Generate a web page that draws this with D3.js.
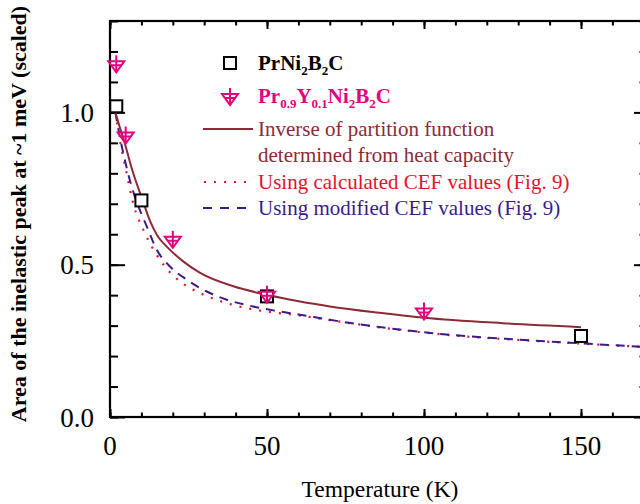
<!DOCTYPE html>
<html><head><meta charset="utf-8">
<script src="https://cdn.jsdelivr.net/npm/d3@7"></script>
<style>body{margin:0;background:#fff}svg{display:block}text{font-family:"Liberation Serif","Times New Roman",serif}</style>
</head><body><svg id="c" width="640" height="504"></svg>
<script>
// Data
const prT = [2, 10, 50, 150];
const prV = [1.02, 0.711, 0.396, 0.266];
const pyT = [2, 5, 20, 50, 100];
const pyV = [1.158, 0.924, 0.582, 0.401, 0.346];
const solidT = [1.7, 3, 4.5, 7.1, 10.1, 12.7, 15, 18, 23.3, 28.7, 39.3, 49.9, 60.5, 70, 85, 100, 125, 150];
const solidV = [1.0, 0.955, 0.906, 0.81, 0.72, 0.645, 0.597, 0.56, 0.511, 0.473, 0.429, 0.401, 0.379, 0.363, 0.343, 0.326, 0.308, 0.295];
const dashT = [1.7, 3.4, 5.5, 7.7, 9.3, 11.7, 14.9, 19.1, 24.4, 30.8, 37.2, 44.6, 52, 60.5, 70, 90, 108, 130, 146.5, 172];
const dashV = [1.0, 0.906, 0.81, 0.73, 0.685, 0.626, 0.549, 0.494, 0.451, 0.412, 0.385, 0.365, 0.35, 0.336, 0.319, 0.29, 0.27, 0.254, 0.244, 0.229];
const dotT = [1.7, 3.3, 5.3, 7.4, 10.6, 15.9, 22.3, 28.7, 39.2, 49.9, 58.3, 70, 90, 108, 130, 146.5, 172];
const dotV = [1.0, 0.9, 0.8, 0.70, 0.615, 0.516, 0.445, 0.407, 0.368, 0.346, 0.336, 0.318, 0.289, 0.269, 0.253, 0.243, 0.229];
const xMajor = [0, 50, 100, 150];
const yMajor = [0.0, 0.5, 1.0];
const legendLabels = ["Inverse of partition function", "determined from heat capacity", "Using calculated CEF values (Fig. 9)", "Using modified CEF values (Fig. 9)"];

const svg = d3.select("#c");
const L = 110, R = 648, T = 21, B = 417;
const x = d3.scaleLinear().domain([0, (R - L) / 3.14]).range([L, R]);
const y = d3.scaleLinear().domain([0, 1.3]).range([B, T]);

const cSolid = "#8e2a36", cDot = "#e8112d", cDash = "#3c1a8c", cPink = "#e5007e";

const xMinor = d3.range(0, 171, 10);
const yMinor = d3.range(0, 1.31, 0.1);

function tickAxis(axis, scale, vals, len) {
  return axis(scale).tickValues(vals).tickSize(len).tickFormat("");
}
const g = svg.append("g");
g.append("g").attr("transform", `translate(0,${B})`).call(tickAxis(d3.axisTop, x, xMinor, 4.5));
g.append("g").attr("transform", `translate(0,${B})`).call(tickAxis(d3.axisTop, x, xMajor, 8));
g.append("g").attr("transform", `translate(0,${T})`).call(tickAxis(d3.axisBottom, x, xMinor, 4.5));
g.append("g").attr("transform", `translate(0,${T})`).call(tickAxis(d3.axisBottom, x, xMajor, 8));
g.append("g").attr("transform", `translate(${L},0)`).call(tickAxis(d3.axisRight, y, yMinor, 8));
g.append("g").attr("transform", `translate(${L},0)`).call(tickAxis(d3.axisRight, y, yMajor, 15));
g.append("g").attr("transform", `translate(${R},0)`).call(tickAxis(d3.axisLeft, y, yMinor, 8.5));
g.append("g").attr("transform", `translate(${R},0)`).call(tickAxis(d3.axisLeft, y, yMajor, 14));
g.selectAll(".domain").remove();
g.selectAll(".tick line").attr("stroke", "#000").attr("stroke-width", 2);
g.append("rect").attr("x", L).attr("y", T).attr("width", R - L).attr("height", B - T)
  .attr("fill", "none").attr("stroke", "#000").attr("stroke-width", 2.2);

// tick labels
svg.append("g").selectAll("text").data(xMajor).join("text")
  .attr("x", d => x(d)).attr("y", 455).attr("text-anchor", "middle")
  .attr("font-size", 27).text(d => d);
svg.append("g").selectAll("text").data(yMajor).join("text")
  .attr("x", 94).attr("y", d => y(d) + 9.5).attr("text-anchor", "end")
  .attr("font-size", 27).text(d => d.toFixed(1));

// axis titles
svg.append("text").attr("x", 380).attr("y", 497).attr("text-anchor", "middle")
  .attr("font-size", 23.5).text("Temperature (K)");
svg.append("text").attr("transform", "translate(26,214) rotate(-90)").attr("text-anchor", "middle")
  .attr("font-size", 22).attr("font-weight", "bold").text("Area of the inelastic peak at ~1 meV (scaled)");

// curves
const line = d3.line().curve(d3.curveMonotoneX).x(d => x(d[0])).y(d => y(d[1]));
svg.append("clipPath").attr("id", "clp").append("rect")
  .attr("x", L).attr("y", T).attr("width", R - L).attr("height", B - T);
const curves = svg.append("g").attr("clip-path", "url(#clp)");
curves.append("path").attr("d", line(dotT.map((t, i) => [t, dotV[i]])))
  .attr("fill", "none").attr("stroke", cDot).attr("stroke-width", 2.2).attr("stroke-dasharray", "2,8");
curves.append("path").attr("d", line(dashT.map((t, i) => [t, dashV[i]])))
  .attr("fill", "none").attr("stroke", cDash).attr("stroke-width", 2).attr("stroke-dasharray", "9,7");
curves.append("path").attr("d", line(solidT.map((t, i) => [t, solidV[i]])))
  .attr("fill", "none").attr("stroke", cSolid).attr("stroke-width", 2);

// markers
function square(sel) {
  sel.append("rect").attr("x", -6).attr("y", -6).attr("width", 12).attr("height", 12)
    .attr("fill", "#fff").attr("stroke", "#000").attr("stroke-width", 2);
}
function tri(sel) {
  sel.append("path").attr("d", "M-8,-3L8,-3L0,8Z").attr("fill", "none")
    .attr("stroke", cPink).attr("stroke-width", 2).attr("stroke-linejoin", "miter");
  sel.append("path").attr("d", "M0,-9L0,8M-5.5,1L5.5,1").attr("fill", "none")
    .attr("stroke", cPink).attr("stroke-width", 2);
}
svg.append("g").selectAll("g").data(prT.map((t, i) => [t, prV[i]])).join("g")
  .attr("transform", d => `translate(${x(d[0])},${y(d[1])})`).each(function () { square(d3.select(this)); });
svg.append("g").selectAll("g").data(pyT.map((t, i) => [t, pyV[i]])).join("g")
  .attr("transform", d => `translate(${x(d[0])},${y(d[1])})`).each(function () { tri(d3.select(this)); });

// legend
const lg = svg.append("g");
square(lg.append("g").attr("transform", "translate(230,63)"));
tri(lg.append("g").attr("transform", "translate(230,97)"));
const t1 = lg.append("text").attr("x", 258).attr("y", 70).attr("font-size", 21).attr("font-weight", "bold").attr("fill", "#000");
t1.append("tspan").text("PrNi");
t1.append("tspan").attr("font-size", 13).attr("dy", 5).text("2");
t1.append("tspan").attr("dy", -5).text("B");
t1.append("tspan").attr("font-size", 13).attr("dy", 5).text("2");
t1.append("tspan").attr("dy", -5).text("C");
const t2 = lg.append("text").attr("x", 258).attr("y", 103).attr("font-size", 21).attr("font-weight", "bold").attr("fill", cPink);
t2.append("tspan").text("Pr");
t2.append("tspan").attr("font-size", 13).attr("dy", 5).text("0.9");
t2.append("tspan").attr("dy", -5).text("Y");
t2.append("tspan").attr("font-size", 13).attr("dy", 5).text("0.1");
t2.append("tspan").attr("dy", -5).text("Ni");
t2.append("tspan").attr("font-size", 13).attr("dy", 5).text("2");
t2.append("tspan").attr("dy", -5).text("B");
t2.append("tspan").attr("font-size", 13).attr("dy", 5).text("2");
t2.append("tspan").attr("dy", -5).text("C");

lg.append("line").attr("x1", 203).attr("x2", 253).attr("y1", 129).attr("y2", 129).attr("stroke", cSolid).attr("stroke-width", 2);
lg.append("line").attr("x1", 204).attr("x2", 252).attr("y1", 182).attr("y2", 182).attr("stroke", cDot).attr("stroke-width", 2.2).attr("stroke-dasharray", "2,8");
lg.append("line").attr("x1", 203).attr("x2", 250).attr("y1", 208).attr("y2", 208).attr("stroke", cDash).attr("stroke-width", 2).attr("stroke-dasharray", "9,8");
const lcol = [cSolid, cSolid, cDot, cDash];
const ly = [136, 162, 189, 215];
lg.selectAll("text.l").data(legendLabels).join("text").attr("class", "l")
  .attr("x", 258).attr("y", (d, i) => ly[i]).attr("font-size", 21).attr("fill", (d, i) => lcol[i]).text(d => d);
</script></body></html>
